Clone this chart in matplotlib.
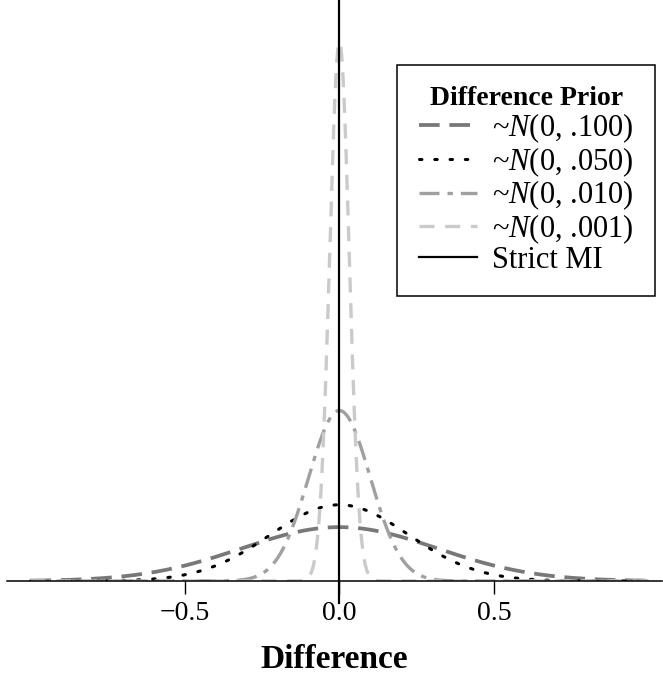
import matplotlib as mpl
mpl.use('Agg')
import matplotlib.pyplot as plt
import numpy as np

# prior variances given in the legend, N(0, variance)
prior_vars = [0.100, 0.050, 0.010, 0.001]
prior_labels = [r'~$N$(0, .100)', r'~$N$(0, .050)', r'~$N$(0, .010)', r'~$N$(0, .001)']
x_range = [-1.0, 1.0]
tick_pos = [-0.5, 0.0, 0.5]
tick_labels = ['\u22120.5', '0.0', '0.5']

plt.rcParams['font.family'] = ['Liberation Serif', 'DejaVu Serif']
plt.rcParams['mathtext.fontset'] = 'custom'
plt.rcParams['mathtext.rm'] = 'Liberation Serif'
plt.rcParams['mathtext.it'] = 'Liberation Serif:italic'

colors = ['#787878', '#000000', '#a0a0a0', '#cacaca']
styles = [(0, (5.5, 2.6)), (0, (0.8, 4.2)), (0, (6, 2.4, 1.6, 2.4)), (0, (4.5, 3.2))]
widths = [2.7, 2.2, 2.4, 2.4]

fig = plt.figure(figsize=(6.63, 6.95), dpi=100)
ax = fig.add_axes([7 / 663, 114 / 695, 655 / 663, 581 / 695])

xs = np.linspace(x_range[0], x_range[1], 1201)
handles = []
for v, lab, c, ls, lw in zip(prior_vars, prior_labels, colors, styles, widths):
    dens = np.exp(-xs ** 2 / (2 * v)) / np.sqrt(2 * np.pi * v)
    h, = ax.plot(xs, dens, color=c, linestyle=ls, lw=lw, label=lab,
                 dash_capstyle='round' if c == '#000000' else 'butt')
    handles.append(h)

strict, = ax.plot([0, 0], [-0.52, 13.6], color='black', lw=1.6, clip_on=False,
                  label='Strict MI', zorder=5)
handles.append(strict)

ax.set_xlim(-1.076, 1.044)
ax.set_ylim(0, 13.6)
for s in ['top', 'left', 'right']:
    ax.spines[s].set_visible(False)
ax.spines['bottom'].set_linewidth(1.1)
ax.set_yticks([])
ax.set_xticks(tick_pos)
ax.set_xticklabels(tick_labels, fontsize=20)
ax.tick_params(axis='x', direction='out', length=9.5, width=1.0, pad=5)
ax.set_xlabel('Difference', fontsize=24, fontweight='bold', labelpad=13)

leg = ax.legend(handles=handles, loc='upper right',
                bbox_to_anchor=(655 / 663, 1 - 65 / 695), bbox_transform=fig.transFigure,
                borderaxespad=0, title='Difference Prior', fontsize=22, frameon=True,
                fancybox=False, framealpha=1, edgecolor='black', handlelength=1.9,
                handletextpad=0.5, labelspacing=0.0, borderpad=0.7)
leg.get_title().set_fontweight('bold')
leg.get_title().set_fontsize(20)
leg.get_frame().set_linewidth(1.1)

plt.savefig('out.png', dpi=100)
